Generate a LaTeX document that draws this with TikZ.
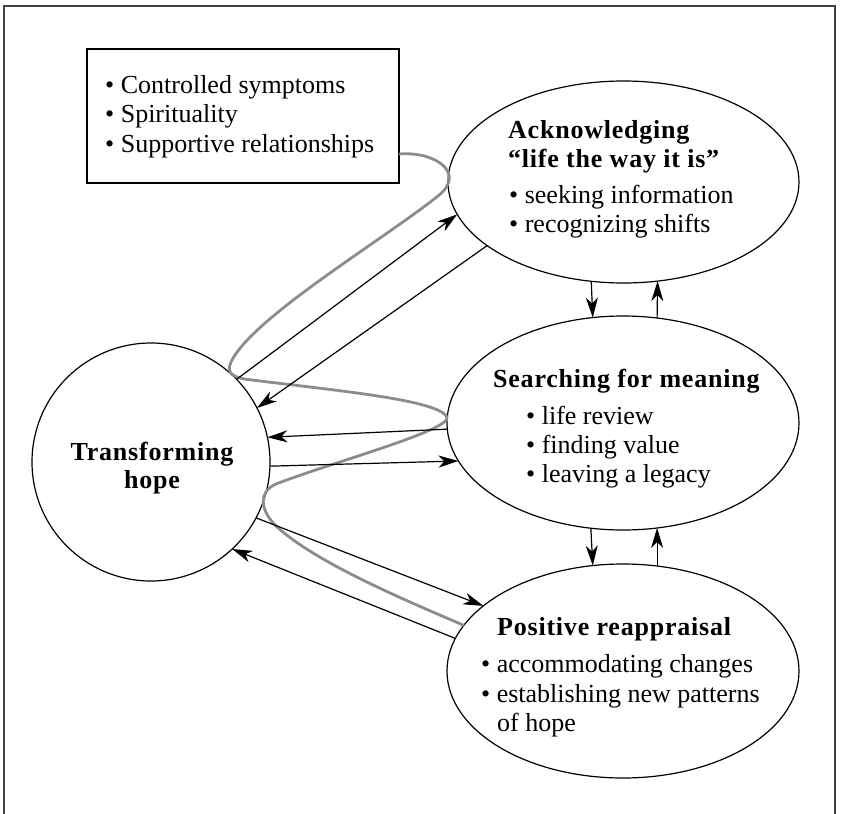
\documentclass[tikz,border=0pt]{standalone}
\usepackage{fontspec}
\setmainfont{Liberation Serif}
\newfontfamily\headfont{Liberation Serif}[LetterSpace=3]
\usetikzlibrary{shapes.geometric,arrows.meta}
\newcommand\mysz{\fontsize{26}{30}\selectfont}
\begin{document}
\begin{tikzpicture}[x=1pt,y=-1pt,
  shapeline/.style={draw=black, line width=1.2pt},
  ell/.style={ellipse, shapeline, inner sep=0pt, outer sep=0pt},
  arr/.style={-{Stealth[length=20pt,width=12pt,inset=6pt]}, line width=1.2pt},
  grayline/.style={draw=black!45, line width=2.8pt},
  frameline/.style={draw=black!75, line width=1.6pt},
  txt/.style={anchor=base west, inner sep=0pt, font=\mysz},
  hd/.style={anchor=base west, inner sep=0pt, font=\mysz\headfont\bfseries}]
\useasboundingbox (0,0) rectangle (841,814);
\draw[frameline] (4,814) -- (4,6) -- (835,6) -- (835,814);
% shapes
\node[shapeline, minimum width=312pt, minimum height=134pt, inner sep=0pt, outer sep=0pt] (box) at (243,116) {};
\node[ell, minimum width=351pt, minimum height=202pt] (ack) at (623.5,182) {};
\node[ell, minimum width=352pt, minimum height=214pt] (search) at (623,423) {};
\node[ell, minimum width=352pt, minimum height=214pt] (pos) at (623,671) {};
\node[circle, shapeline, inner sep=0pt, outer sep=0pt, minimum size=238pt] (hope) at (151,462) {};
% texts
\node[txt] (b1) at (105,93) {• Controlled symptoms};
\node[txt] (b2) at (105,122) {• Spirituality};
\node[txt] (b3) at (105,152) {• Supportive relationships};
\node[hd] (a1) at (508,138) {Acknowledging};
\node[hd] (a2) at (508,167) {“life the way it is”};
\node[txt] (a3) at (509,203) {• seeking information};
\node[txt] (a4) at (509,232) {• recognizing shifts};
\node[hd] (s1) at (493,387) {Searching for meaning};
\node[txt] (s2) at (526,424) {• life review};
\node[txt] (s3) at (526,453) {• finding value};
\node[txt] (s4) at (526,482) {• leaving a legacy};
\node[hd] (p1) at (497,635) {Positive reappraisal};
\node[txt] (p2) at (481,672) {• accommodating changes};
\node[txt] (p3) at (481,702) {• establishing new patterns};
\node[txt] (p4) at (497,731) {of hope};
\node[hd, anchor=base] (h1) at (152,460) {Transforming};
\node[hd, anchor=base] (h2) at (152,488) {hope};
% gray curve
\draw[grayline] ([yshift=-38pt]box.east) .. controls (435,151) and (467,173) .. (438,196)
  .. controls (380,242) and (252,318) .. (231,362)
  .. controls (226,373) and (232,378) .. (252,380)
  .. controls (340,391) and (438,400) .. (447,417)
  .. controls (452,430) and (330,463) .. (276,484)
  .. controls (258,492) and (260,510) .. (276,526)
  .. controls (315,562) and (400,598) .. (pos.164.3);
% arrows
\draw[arr] (hope.44.7) -- (ack.191.9);
\draw[arr] (ack.205.1) -- (hope.27.6);
\draw[arr] (search.182.6) -- (hope.12.4);
\draw[arr] (hope.-2.9) -- (search.193);
\draw[arr] (hope.-28.3) -- (pos.155.25);
\draw[arr] (pos.169.9) -- (hope.-47.3);
\draw[arr] (ack.252.3) -- (search.106.4);
\draw[arr] (search.72.6) -- (ack.-71.9);
\draw[arr] (search.253.6) -- (pos.106.4);
\draw[arr] (pos.72.06) -- (search.-72.06);
\end{tikzpicture}
\end{document}
